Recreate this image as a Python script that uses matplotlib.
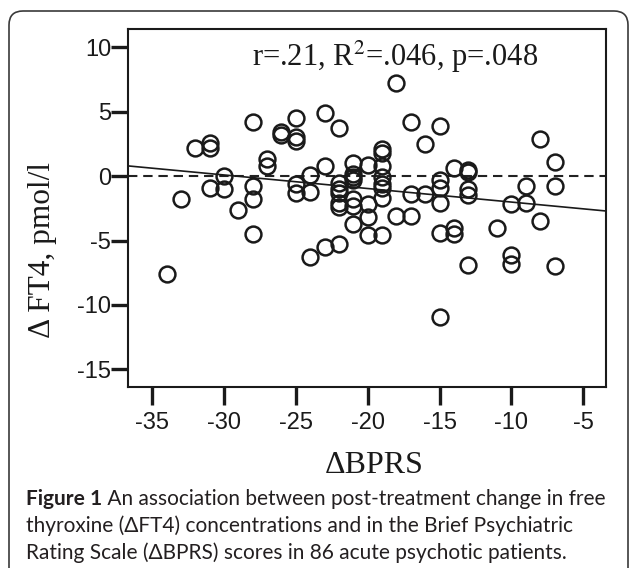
"""Scatter of change in FT4 against change in BPRS, with fit line and caption."""

import numpy as np
import matplotlib
matplotlib.use("Agg")
import matplotlib.pyplot as plt
from matplotlib.patches import FancyBboxPatch

# Change in BPRS score for each patient
bprs = [
    -34, -33, -32,
    -31, -31, -31,
    -30, -30, -29,
    -28, -28, -28, -28,
    -27, -27, -26, -26,
    -25, -25, -25, -25, -25,
    -24, -24, -24,
    -23, -23, -23,
    -22, -22, -22, -22, -22, -22, -22,
    -21, -21, -21, -21, -21, -21, -21,
    -20, -20, -20, -20,
    -19, -19, -19, -19, -19, -19, -19, -19,
    -18, -18,
    -17, -17, -17,
    -16, -16,
    -15, -15, -15, -15, -15, -15,
    -14, -14, -14,
    -13, -13, -13, -13, -13,
    -11,
    -10, -10, -10,
    -9, -9,
    -8, -8,
    -7, -7, -7,
]

# Change in free thyroxine (pmol/l), same order
ft4 = [
    -7.6, -1.8, 2.2,
    2.6, 2.2, -0.9,
    0.0, -1.0, -2.6,
    4.2, -0.8, -1.8, -4.5,
    1.3, 0.8, 3.4, 3.2,
    4.5, 3.0, 2.7, -0.6, -1.3,
    0.1, -1.2, -6.3,
    4.9, 0.8, -5.5,
    3.7, -0.5, -1.0, -1.3, -2.1, -2.4, -5.3,
    1.0, 0.2, -0.1, -0.3, -1.8, -2.3, -3.7,
    0.9, -2.2, -3.2, -4.6,
    2.1, 1.8, 0.8, -0.1, -0.6, -0.9, -1.7, -4.6,
    7.2, -3.1,
    4.2, -1.4, -3.1,
    2.5, -1.4,
    3.9, -0.3, -0.9, -2.1, -4.4, -10.9,
    0.6, -4.0, -4.5,
    0.5, 0.3, -1.0, -1.5, -6.9,
    -4.0,
    -2.2, -6.1, -6.8,
    -0.8, -2.1,
    2.9, -3.5,
    1.1, -0.8, -7.0,
]

x_ticks = [-35, -30, -25, -20, -15, -10, -5]
y_ticks = [10, 5, 0, -5, -10, -15]

stats_text = r"r=.21, R$^2$=.046, p=.048"
caption_bold = "Figure 1"
caption_lines = [
    " An association between post-treatment change in free",
    "thyroxine (\u0394FT4) concentrations and in the Brief Psychiatric",
    "Rating Scale (\u0394BPRS) scores in 86 acute psychotic patients.",
]

W, H = 629, 568
plt.rcParams["mathtext.fontset"] = "stix"

fig = plt.figure(figsize=(W / 100, H / 100), dpi=100)

# rounded frame around figure + caption
frame = FancyBboxPatch(
    (0.09, -0.5), 6.19, 5.57 + 0.5,
    boxstyle="round,pad=0,rounding_size=0.14",
    transform=fig.dpi_scale_trans,
    facecolor="none", edgecolor="#3a3a3a", linewidth=1.2,
)
fig.patches.append(frame)

ax = fig.add_axes([127.7 / W, 1 - 386.7 / H, (606.3 - 127.7) / W, (386.7 - 29.3) / H])

ax.axhline(0, color="#222222", linewidth=1.5, linestyle=(0, (4.5, 2.8)), zorder=1)

x = np.array(bprs, dtype=float)
y = np.array(ft4, dtype=float)
slope, intercept = np.polyfit(x, y, 1)
xlim = (-36.7, -3.4)
xs = np.array(xlim)
ax.plot(xs, intercept + slope * xs, color="#1a1a1a", linewidth=1.2, zorder=2)

ax.plot(x, y, linestyle="none", marker="o", markersize=11.4,
        markerfacecolor="none", markeredgecolor="#1a1a1a",
        markeredgewidth=1.8, zorder=3)

ax.set_xlim(*xlim)
ax.set_ylim(-16.35, 11.4)
ax.set_xticks(x_ticks)
ax.set_yticks(y_ticks)
ax.set_xticklabels([str(t) for t in x_ticks])
ax.set_yticklabels([str(t) for t in y_ticks])

for side in ["left", "right", "top", "bottom"]:
    ax.spines[side].set_linewidth(1.5)
    ax.spines[side].set_color("#1a1a1a")

ax.tick_params(axis="y", direction="out", length=12, width=2.4, pad=0,
               labelsize=17, colors="#1a1a1a")
ax.tick_params(axis="x", direction="out", length=13, width=2.4, pad=5,
               labelsize=17, colors="#1a1a1a")
for lab in ax.get_xticklabels() + ax.get_yticklabels():
    lab.set_fontfamily("Liberation Sans")

serif = "Liberation Serif"
fig.text(43 / W, 1 - 250 / H, "\u0394 FT4, pmol/l", rotation=90,
         ha="center", va="center", fontsize=22.5, family=serif, color="#1a1a1a")
fig.text(374 / W, 1 - 473 / H, "\u0394BPRS", ha="center", va="baseline",
         fontsize=23, family=serif, color="#1a1a1a")
fig.text(395 / W, 1 - 66 / H, stats_text, ha="center", va="baseline",
         fontsize=22, family=serif, color="#1a1a1a")

# caption: bold label followed by regular text on first line
cap_font = "Lato"
cap_size = 15
cap_color = "#231f20"
baselines = [505, 532, 559]
left = 26 / W
renderer = fig.canvas.get_renderer()
bold = fig.text(left, 1 - baselines[0] / H, caption_bold, ha="left", va="baseline",
                fontsize=cap_size, family=cap_font, weight="bold", color=cap_color)
bb = bold.get_window_extent(renderer=renderer)
fig.text(bb.x1 / W, 1 - baselines[0] / H, caption_lines[0], ha="left", va="baseline",
         fontsize=cap_size, family=cap_font, color=cap_color)
for line, base in zip(caption_lines[1:], baselines[1:]):
    fig.text(left, 1 - base / H, line, ha="left", va="baseline",
             fontsize=cap_size, family=cap_font, color=cap_color)

fig.savefig("out.png", dpi=100)
plt.close(fig)
